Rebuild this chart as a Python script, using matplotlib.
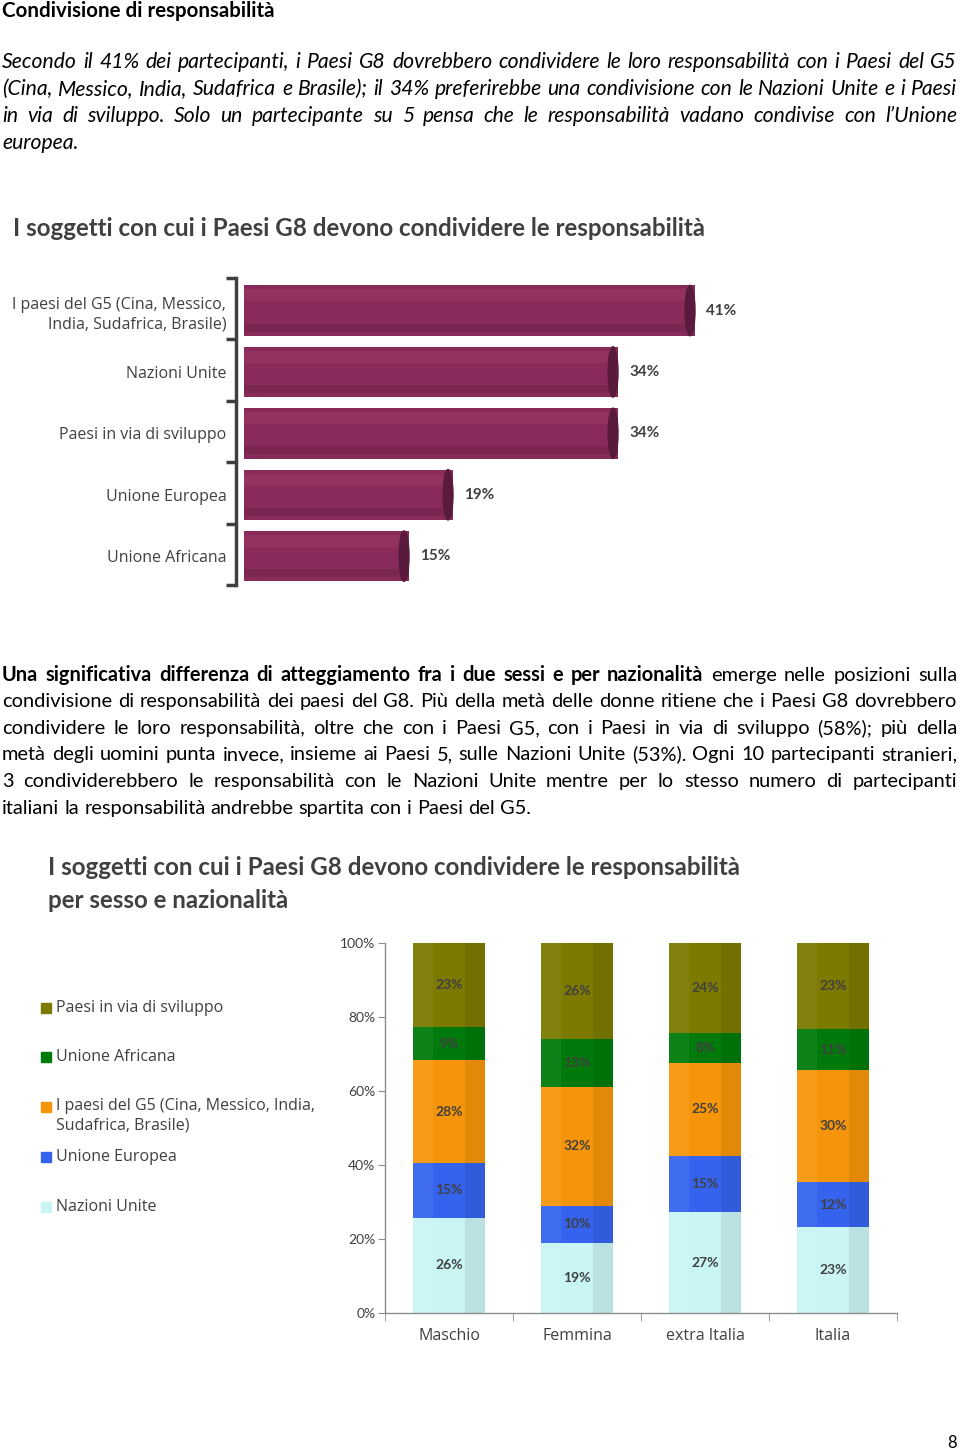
import matplotlib
matplotlib.use("Agg")
import matplotlib.pyplot as plt
from matplotlib.patches import Ellipse, Rectangle
import numpy as np

W, H = 960, 1451

# ---------------- data ----------------
cat1 = ["I paesi del G5 (Cina, Messico,\nIndia, Sudafrica, Brasile)", "Nazioni Unite",
        "Paesi in via di sviluppo", "Unione Europea", "Unione Africana"]
val1 = [41, 34, 34, 19, 15]

groups = ["Maschio", "Femmina", "extra Italia", "Italia"]
series = ["Nazioni Unite", "Unione Europea", "I paesi del G5 (Cina, Messico, India,\nSudafrica, Brasile)",
          "Unione Africana", "Paesi in via di sviluppo"]
nazioni_unite = [26, 19, 27, 23]
unione_europea = [15, 10, 15, 12]
paesi_g5 = [28, 32, 25, 30]
unione_africana = [9, 13, 8, 11]
paesi_sviluppo = [23, 26, 24, 23]
colors2 = ["#C9F5F5", "#3563EE", "#F7950A", "#007A0A", "#7C7A00"]

para1 = [
    "Secondo il 41% dei partecipanti, i Paesi G8 dovrebbero condividere le loro responsabilità con i Paesi del G5",
    "(Cina, Messico, India, Sudafrica e Brasile); il 34% preferirebbe una condivisione con le Nazioni Unite e i Paesi",
    "in via di sviluppo. Solo un partecipante su 5 pensa che le responsabilità vadano condivise con l’Unione",
    "europea.",
]
para2_bold = "Una significativa differenza di atteggiamento fra i due sessi e per nazionalità"
para2 = [
    " emerge nelle posizioni sulla",
    "condivisione di responsabilità dei paesi del G8. Più della metà delle donne ritiene che i Paesi G8 dovrebbero",
    "condividere le loro responsabilità, oltre che con i Paesi G5, con i Paesi in via di sviluppo (58%); più della",
    "metà degli uomini punta invece, insieme ai Paesi 5, sulle Nazioni Unite (53%). Ogni 10 partecipanti stranieri,",
    "3 condividerebbero le responsabilità con le Nazioni Unite mentre per lo stesso numero di partecipanti",
    "italiani la responsabilità andrebbe spartita con i Paesi del G5.",
]

FONT = "Lato"
LABFONT = ["Open Sans", "DejaVu Sans"]
plt.rcParams["font.family"] = [FONT, "DejaVu Sans"]

fig = plt.figure(figsize=(W / 100, H / 100), dpi=100)
fig.patch.set_facecolor("white")
renderer = fig.canvas.get_renderer()


def fx(x):
    return x / W


def fy(y):
    return 1 - y / H


def twidth(s, size, **kw):
    t = fig.text(0, 0, s, fontsize=size, **kw)
    w = t.get_window_extent(renderer).width
    t.remove()
    return w


def fit_size(s, target, **kw):
    base = 12.0
    return base * target / twidth(s, base, **kw)


def justified(lines_words, x0, x1, baselines, size, last_left=True):
    for i, (words, yb) in enumerate(zip(lines_words, baselines)):
        widths = [twidth(w, size, **kw) for w, kw in words]
        last = (i == len(lines_words) - 1) and last_left
        if last or len(words) < 2:
            gap = twidth("a a", size) - twidth("aa", size)
        else:
            gap = (x1 - x0 - sum(widths)) / (len(words) - 1)
        x = x0
        for (w, kw), wd in zip(words, widths):
            fig.text(fx(x), fy(yb), w, fontsize=size, va="baseline", ha="left", color="black", **kw)
            x += wd + gap


# ---------------- heading ----------------
s = fit_size("Condivisione di responsabilità", 271, fontweight="bold")
fig.text(fx(2), fy(17), "Condivisione di responsabilità", fontsize=s, fontweight="bold", va="baseline")

# ---------------- paragraph 1 ----------------
it = dict(fontstyle="italic")
p1_words = [[(w, it) for w in line.split()] for line in para1]
maxw = max(twidth(l, 12, **it) for l in para1)
size1 = 12 * 940 / maxw
justified(p1_words, 2, 957, [68, 95, 122, 149], size1)

# ---------------- chart 1 ----------------
ax1_left, ax1_right = 236, 900
ax1_top, ax1_bot = 278, 585
ax1 = fig.add_axes([fx(ax1_left), fy(ax1_bot), (ax1_right - ax1_left) / W, (ax1_bot - ax1_top) / H])
pxper = 11.0
x0 = -8 / pxper
ax1.set_xlim(x0, x0 + (ax1_right - ax1_left) / pxper)
ax1.set_ylim(len(val1) - 0.5, -0.5)
ypos = np.arange(len(val1)) + 0.03
bh = 0.82
ax1.barh(ypos, val1, height=bh, color="#882B5B", edgecolor="none", zorder=2)
ax1.barh(ypos - bh * 0.3, val1, height=bh * 0.24, color="#94325F", edgecolor="none", zorder=2.1)
ax1.barh(ypos + bh * 0.34, val1, height=bh * 0.16, color="#7A2650", edgecolor="none", zorder=2.1)
for y, v in zip(ypos, val1):
    ax1.add_patch(Ellipse((v - 0.45, y), 0.9, bh, color="#5A1A3C", zorder=3))
    ax1.text(v + 1.0, y, f"{v}%", fontsize=11, fontweight="bold", color="#404040", va="center", ha="left")
for sp in ["top", "right", "bottom"]:
    ax1.spines[sp].set_visible(False)
ax1.spines["left"].set_color("#404040")
ax1.spines["left"].set_linewidth(2.5)
ax1.spines["left"].set_position(("data", x0))
ax1.set_xticks([])
ax1.set_yticks(ypos)
ax1.set_yticklabels(cat1, fontsize=11.5, color="#404040", family=LABFONT)
ax1.set_yticks(np.arange(-0.5, len(val1)), minor=True)
ax1.tick_params(axis="y", which="major", length=0, pad=7)
ax1.tick_params(axis="y", which="minor", length=7, width=2.5, color="#404040", direction="out")
for lab in ax1.get_yticklabels():
    lab.set_linespacing(1.3)

t1 = "I soggetti con cui i Paesi G8 devono condividere le responsabilità"
st = fit_size(t1, 687, fontweight="bold")
fig.text(fx(13), fy(236), t1, fontsize=st, fontweight="bold", color="#404040", va="baseline")

# ---------------- paragraph 2 ----------------
b = dict(fontweight="bold")
first = [(w, b) for w in para2_bold.split()] + [(w, {}) for w in para2[0].split()]
p2_words = [first] + [[(w, {}) for w in line.split()] for line in para2[1:]]
cand = [twidth(para2_bold, 12, **b) + twidth(para2[0], 12)] + [twidth(l, 12) for l in para2[1:]]
size2 = 12 * 940 / max(cand)
justified(p2_words, 2, 957, [681, 707, 734, 760, 787, 814], size2)

# ---------------- chart 2 ----------------
fig.text(fx(48), fy(875), t1, fontsize=st, fontweight="bold", color="#404040", va="baseline")
fig.text(fx(48), fy(908), "per sesso e nazionalità", fontsize=st, fontweight="bold", color="#404040", va="baseline")

ax2_left, ax2_right = 385, 897
ax2_top, ax2_bot = 943, 1313
ax2 = fig.add_axes([fx(ax2_left), fy(ax2_bot), (ax2_right - ax2_left) / W, (ax2_bot - ax2_top) / H])
data = np.array([nazioni_unite, unione_europea, paesi_g5, unione_africana, paesi_sviluppo], dtype=float)
tot = data.sum(axis=0)
norm = data / tot * 100
xpos = np.arange(len(groups))
bw = 0.56
bottom = np.zeros(len(groups))
for k in range(data.shape[0]):
    ax2.bar(xpos, norm[k], bw, bottom=bottom, color=colors2[k], edgecolor="none", zorder=2)
    ax2.bar(xpos + bw * 0.36, norm[k], bw * 0.28, bottom=bottom, color="black", alpha=0.08,
            edgecolor="none", zorder=2.1)
    ax2.bar(xpos - bw * 0.36, norm[k], bw * 0.28, bottom=bottom, color="white", alpha=0.06,
            edgecolor="none", zorder=2.1)
    for i in range(len(groups)):
        ax2.text(xpos[i], bottom[i] + norm[k][i] / 2, f"{int(data[k][i])}%", ha="center", va="center",
                 fontsize=10, fontweight="bold", color="#404040", zorder=4)
    bottom += norm[k]
ax2.set_xlim(-0.5, len(groups) - 0.5)
ax2.set_ylim(0, 100)
ax2.set_yticks(np.arange(0, 101, 20))
ax2.set_yticklabels([f"{v}%" for v in range(0, 101, 20)], fontsize=10, color="#404040")
ax2.set_xticks(xpos)
ax2.set_xticklabels(groups, fontsize=11.5, color="#404040", family=LABFONT)
ax2.set_xticks(np.arange(-0.5, len(groups)), minor=True)
ax2.tick_params(axis="x", which="major", length=0, pad=11)
ax2.tick_params(axis="x", which="minor", length=6, color="#8C8C8C")
ax2.tick_params(axis="y", which="major", length=5, color="#8C8C8C", pad=2)
for sp in ["top", "right"]:
    ax2.spines[sp].set_visible(False)
for sp in ["left", "bottom"]:
    ax2.spines[sp].set_color("#8C8C8C")
    ax2.spines[sp].set_linewidth(1)

# legend (manual, reverse stack order)
leg_y = [1008, 1057, 1107, 1157, 1207]
for k, y in zip(range(data.shape[0] - 1, -1, -1), leg_y):
    fig.patches.append(Rectangle((fx(41), fy(y + 5)), 10 / W, 10 / H, transform=fig.transFigure,
                                 color=colors2[k], figure=fig))
    multi = "\n" in series[k]
    fig.text(fx(56), fy(y - 9) if multi else fy(y), series[k], fontsize=11.5, color="#404040",
             va="top" if multi else "center", linespacing=1.3, family=LABFONT)

fig.text(fx(957), fy(1443), "8", fontsize=12, ha="right", va="center", color="black")

fig.savefig("out.png", dpi=100, facecolor="white")
